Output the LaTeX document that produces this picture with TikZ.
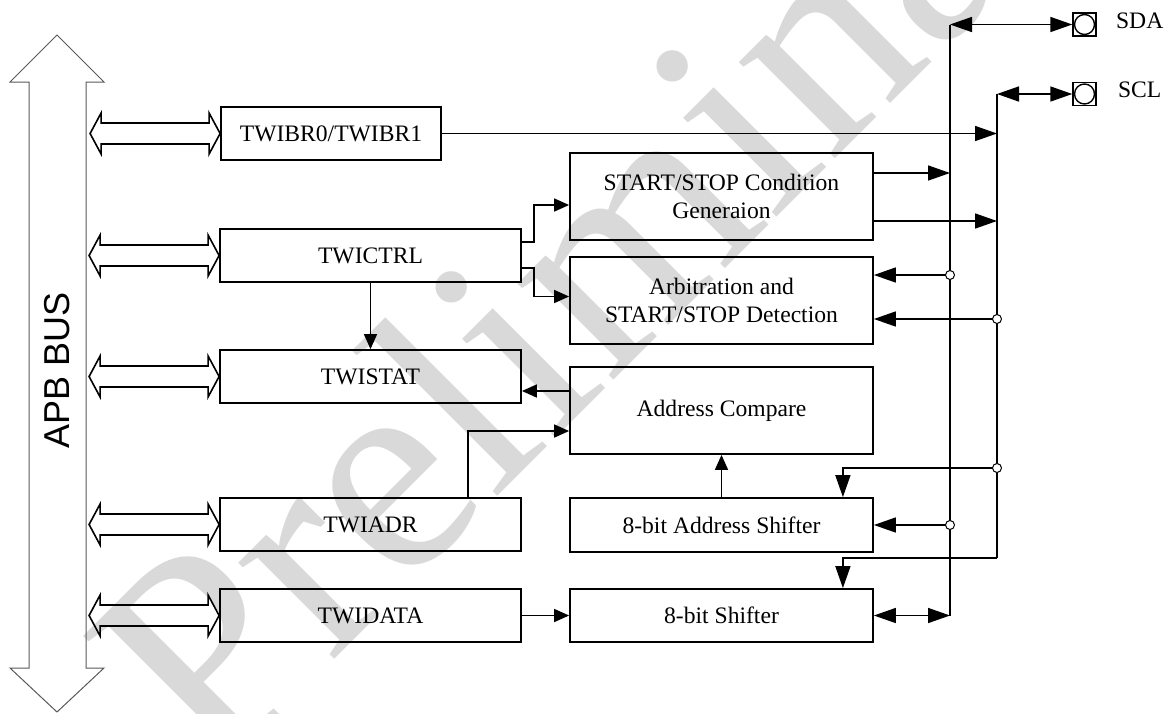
\documentclass[tikz,border=0pt]{standalone}
\usepackage{fontspec}
\setmainfont{Liberation Serif}
\newfontfamily\apbfont{Liberation Sans}
\usetikzlibrary{arrows.meta,calc,positioning}
\tikzset{
  blk/.style={draw, line width=0.9pt, inner sep=0pt, align=center, font=\fontsize{11.8}{14}\selectfont},
  sig/.style={line width=0.8pt, >={Triangle[length=11pt,width=7.5pt]}},
  ctl/.style={line width=0.8pt, >={Triangle[length=7.5pt,width=6.5pt]}},
  bus/.style={draw=black!65, line width=0.5pt},
  regport/.style={draw, line width=0.8pt},
  tap/.style={circle, draw, fill=white, line width=0.5pt, inner sep=0pt, minimum size=4.5pt},
  padbox/.style={draw, line width=0.7pt, inner sep=0pt, minimum size=11.5pt,
    path picture={\draw[line width=0.7pt] (path picture bounding box.center) circle (5pt);}},
  lbl/.style={font=\fontsize{11.8}{14}\selectfont, inner sep=0pt},
  watermark/.style={text=black!15, font=\fontsize{148}{148}\selectfont, rotate=45, anchor=base west, inner sep=0pt}
}

\begin{document}
\begin{tikzpicture}[x=0.5pt, y=-0.5pt]
  \useasboundingbox (0,0) rectangle (1167,713);
  \node[watermark] (wm) at (214,780) {Preliminary};

  % APB bus
  \draw[bus] (57,35) -- (104,82) -- (86,82) -- (86,668) -- (104,668) -- (57,712)
    -- (10,668) -- (29,668) -- (29,82) -- (10,82) -- cycle;
  \node[rotate=90, font=\apbfont\fontsize{18}{18}\selectfont] (apb) at (57,370) {APB BUS};

  % registers
  \node[blk, minimum width=110pt, minimum height=26.5pt] (brg) at (331,133.5) {TWIBR0/TWIBR1};
  \node[blk, minimum width=150.5pt, minimum height=26.5pt] (ctrl) at (370.5,255.5) {TWICTRL};
  \node[blk, minimum width=150.5pt, minimum height=26.5pt] (stat) at (370.5,376.5) {TWISTAT};
  \node[blk, minimum width=150.5pt, minimum height=26.5pt] (adr) at (370.5,524.5) {TWIADR};
  \node[blk, minimum width=150.5pt, minimum height=26.5pt] (data) at (370.5,615.5) {TWIDATA};

  % logic blocks
  \node[blk, minimum width=151.5pt, minimum height=43.5pt] (gen) at (721.5,196.5) {START/STOP Condition\\Generaion};
  \node[blk, minimum width=151.5pt, minimum height=43.5pt] (arb) at (721.5,300.5) {Arbitration and\\START/STOP Detection};
  \node[blk, minimum width=151.5pt, minimum height=43.5pt] (cmp) at (721.5,410.5) {Address Compare};
  \node[blk, minimum width=151.5pt, minimum height=27pt] (ashift) at (721.5,525) {8-bit Address Shifter};
  \node[blk, minimum width=151.5pt, minimum height=26.5pt] (shift) at (721.5,615.5) {8-bit Shifter};

  \foreach \r in {brg,ctrl,stat,adr,data}{
    \draw[regport] (\r.west) -- ++(-11,-20.5) -- ++(0,10) -- ++(-108,0) -- ++(0,-10)
      -- ++(-11,20.5) -- ++(11,20.5) -- ++(0,-10) -- ++(108,0) -- ++(0,10) -- cycle;
  }

  % pads
  \node[padbox] (sdapad) at (1084.5,24.5) {};
  \node[padbox] (sclpad) at (1084.5,94) {};
  \node[lbl, anchor=west] (sdalbl) at ([xshift=9.5pt,yshift=2pt]sdapad.east) {SDA};
  \node[lbl, anchor=west] (scllbl) at ([xshift=10.5pt,yshift=2pt]sclpad.east) {SCL};

  \coordinate (sdatop) at (950,24.5);
  \coordinate (scltop) at (997,94);
  \coordinate (sdabot) at (shift.east -| sdatop);
  \coordinate (sclbot) at (997,558);

  \draw[sig] (sdatop) -- (sdabot);
  \draw[sig] (scltop) -- (sclbot);
  \draw[sig, <->] (sdatop) -- (sdapad.west);
  \draw[sig, <->] (scltop) -- (sclpad.west);

  \draw[sig, ->] (brg.east) -- (brg.east -| scltop);
  \draw[sig, ->] ([yshift=11.75pt]gen.east) -- ([yshift=11.75pt]gen.east -| sdatop);
  \draw[sig, ->] ([yshift=-12.25pt]gen.east) -- ([yshift=-12.25pt]gen.east -| scltop);

  \coordinate (t1) at ([yshift=12.75pt]arb.east -| sdatop);
  \coordinate (t2) at ([yshift=-9.25pt]arb.east -| scltop);
  \coordinate (t3) at (997,468);
  \coordinate (t4) at (ashift.east -| sdatop);
  \draw[sig, ->] (t1) -- ([yshift=12.75pt]arb.east);
  \draw[sig, ->] (t2) -- ([yshift=-9.25pt]arb.east);
  \draw[sig, ->] (t3) -| ([xshift=-15.5pt]ashift.north east);
  \draw[sig, ->] (t4) -- (ashift.east);
  \draw[sig, ->] (sclbot) -| ([xshift=-15.5pt]shift.north east);
  \draw[sig, <->] (shift.east) -- (sdabot);
  \foreach \t in {t1,t2,t3,t4}
    \node[tap] at (\t) {};

  % internal paths
  \draw[ctl, ->] (ctrl.south) -- (stat.north);
  \draw[ctl, ->] ([yshift=6.75pt]ctrl.east) -- ++(12,0) |- ([yshift=-4.25pt]gen.west);
  \draw[ctl, ->] ([yshift=-6.25pt]ctrl.east) -- ++(12,0) |- ([yshift=2pt]arb.west);
  \draw[ctl, ->] ([yshift=9.75pt]cmp.west) -- ([yshift=9.75pt]cmp.west -| stat.east);
  \draw[ctl, ->] ([xshift=-27pt]adr.north east) |- ([yshift=-10.25pt]cmp.west);
  \draw[ctl, ->] (ashift.north) -- (cmp.south);
  \draw[ctl, ->] (data.east) -- (shift.west);
\end{tikzpicture}
\end{document}
